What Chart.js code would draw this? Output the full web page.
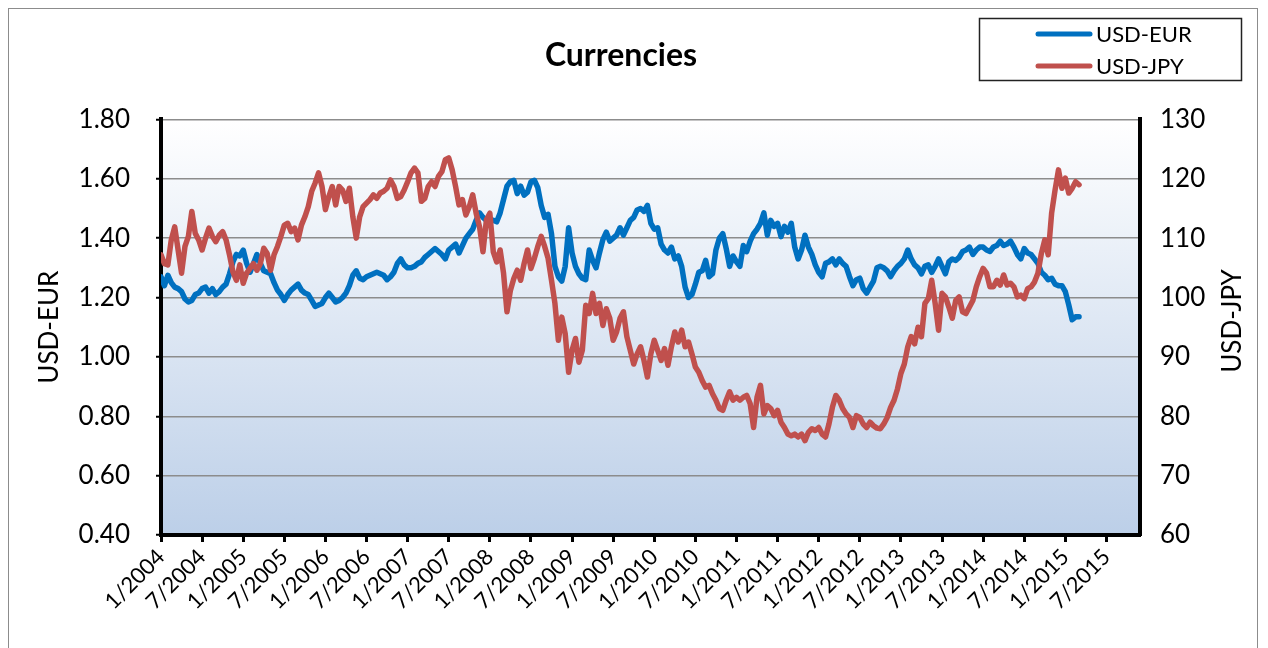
<!DOCTYPE html>
<html>
<head>
<meta charset="utf-8">
<title>Currencies</title>
<script src="https://cdn.jsdelivr.net/npm/chart.js@4.4.1/dist/chart.umd.min.js"></script>
<style>
    html, body { margin: 0; padding: 0; background: #ffffff; }
</style>
</head>
<body>
<canvas id="currencyChart" width="1268" height="648"></canvas>
<script>
// x axis: months counted from 1/2004, one label every 6 months
const tickMonths = [0, 6, 12, 18, 24, 30, 36, 42, 48, 54, 60, 66, 72, 78, 84, 90, 96, 102, 108, 114, 120, 126, 132, 138];
const tickLabels = ["1/2004", "7/2004", "1/2005", "7/2005", "1/2006", "7/2006", "1/2007", "7/2007",
    "1/2008", "7/2008", "1/2009", "7/2009", "1/2010", "7/2010", "1/2011", "7/2011",
    "1/2012", "7/2012", "1/2013", "7/2013", "1/2014", "7/2014", "1/2015", "7/2015"];

// readings every half month, one row = 6 months
const eurUsd = [
    1.27, 1.24, 1.275, 1.25, 1.235, 1.23, 1.22, 1.195, 1.185, 1.19, 1.21, 1.215,
    1.23, 1.235, 1.215, 1.23, 1.21, 1.22, 1.235, 1.245, 1.28, 1.32, 1.345, 1.34,
    1.36, 1.315, 1.285, 1.315, 1.345, 1.315, 1.29, 1.285, 1.28, 1.25, 1.225, 1.21,
    1.19, 1.21, 1.225, 1.235, 1.245, 1.225, 1.215, 1.21, 1.19, 1.17, 1.175, 1.18,
    1.20, 1.215, 1.20, 1.185, 1.19, 1.20, 1.215, 1.24, 1.275, 1.29, 1.265, 1.26,
    1.27, 1.275, 1.28, 1.285, 1.28, 1.275, 1.26, 1.27, 1.285, 1.315, 1.33, 1.31,
    1.30, 1.30, 1.305, 1.315, 1.32, 1.335, 1.345, 1.355, 1.365, 1.355, 1.345, 1.33,
    1.36, 1.37, 1.38, 1.35, 1.375, 1.40, 1.415, 1.43, 1.46, 1.485, 1.47, 1.46,
    1.455, 1.46, 1.455, 1.485, 1.53, 1.575, 1.59, 1.595, 1.55, 1.575, 1.545, 1.555,
    1.59, 1.595, 1.57, 1.51, 1.47, 1.48, 1.415, 1.305, 1.27, 1.255, 1.305, 1.435,
    1.35, 1.305, 1.28, 1.265, 1.26, 1.36, 1.325, 1.30, 1.35, 1.395, 1.42, 1.39,
    1.40, 1.41, 1.435, 1.41, 1.435, 1.46, 1.47, 1.495, 1.50, 1.49, 1.51, 1.45,
    1.43, 1.435, 1.38, 1.36, 1.35, 1.37, 1.33, 1.34, 1.305, 1.235, 1.20, 1.21,
    1.245, 1.285, 1.29, 1.325, 1.27, 1.28, 1.36, 1.40, 1.415, 1.365, 1.305, 1.34,
    1.32, 1.305, 1.375, 1.355, 1.39, 1.415, 1.43, 1.45, 1.485, 1.41, 1.46, 1.44,
    1.45, 1.405, 1.44, 1.42, 1.45, 1.37, 1.33, 1.36, 1.41, 1.37, 1.345, 1.31,
    1.285, 1.27, 1.315, 1.32, 1.33, 1.31, 1.33, 1.315, 1.305, 1.27, 1.24, 1.26,
    1.265, 1.23, 1.215, 1.235, 1.255, 1.30, 1.305, 1.30, 1.29, 1.27, 1.29, 1.305,
    1.315, 1.33, 1.36, 1.33, 1.31, 1.30, 1.28, 1.305, 1.31, 1.285, 1.305, 1.33,
    1.305, 1.28, 1.32, 1.33, 1.325, 1.335, 1.355, 1.36, 1.37, 1.345, 1.36, 1.37,
    1.37, 1.36, 1.355, 1.37, 1.375, 1.39, 1.375, 1.38, 1.39, 1.37, 1.345, 1.33,
    1.365, 1.35, 1.345, 1.33, 1.315, 1.285, 1.275, 1.26, 1.265, 1.245, 1.24, 1.24,
    1.22, 1.175, 1.125, 1.135, 1.135
];

const usdJpy = [
    107.2, 105.7, 105.5, 109.7, 111.9, 108.0, 104.1, 108.6, 110.3, 114.5, 110.8, 109.7,
    108.0, 110.0, 111.7, 110.3, 109.4, 110.5, 111.1, 109.7, 107.2, 104.3, 102.9, 105.5,
    102.4, 104.1, 104.9, 105.7, 104.6, 105.7, 108.3, 107.4, 104.6, 107.2, 108.6, 110.3,
    112.2, 112.5, 111.1, 111.7, 109.7, 112.2, 113.6, 115.3, 117.9, 119.3, 121.0, 118.7,
    114.8, 117.0, 118.7, 115.6, 118.7, 118.1, 116.2, 118.4, 113.6, 110.0, 113.6, 115.3,
    115.9, 116.5, 117.3, 116.7, 117.6, 117.9, 118.4, 119.8, 118.7, 116.7, 117.0, 118.1,
    119.5, 121.0, 121.8, 121.0, 116.2, 116.7, 118.7, 119.5, 118.7, 120.4, 121.2, 123.2,
    123.5, 121.5, 118.7, 115.6, 116.5, 113.9, 115.3, 117.3, 114.2, 111.9, 107.7, 113.1,
    114.2, 107.7, 106.0, 108.0, 104.1, 97.6, 101.2, 103.2, 104.6, 102.9, 105.7, 108.0,
    104.9, 106.6, 108.6, 110.3, 108.6, 106.6, 102.9, 99.0, 92.8, 96.7, 93.9, 87.4,
    91.1, 93.1, 89.1, 91.1, 98.7, 97.3, 100.7, 97.3, 99.0, 95.3, 98.1, 96.5,
    92.8, 94.2, 96.5, 97.6, 93.4, 91.1, 88.8, 90.5, 91.7, 89.4, 86.6, 90.5,
    92.8, 91.1, 89.4, 91.4, 88.6, 91.7, 94.2, 92.5, 94.5, 91.7, 92.5, 90.5,
    88.3, 87.4, 86.0, 84.9, 85.2, 83.8, 82.7, 81.3, 81.0, 82.7, 84.1, 82.7,
    83.2, 82.7, 83.2, 83.5, 82.1, 78.1, 83.2, 85.2, 80.4, 81.8, 81.3, 80.1,
    81.0, 79.0, 78.1, 77.0, 76.7, 77.0, 76.5, 77.0, 75.9, 77.3, 77.9, 77.6,
    78.1, 77.0, 76.5, 78.7, 81.5, 83.5, 82.7, 81.3, 80.4, 79.8, 78.1, 80.1,
    79.8, 78.7, 78.1, 79.0, 78.4, 78.0, 77.9, 78.7, 79.8, 81.5, 82.7, 84.6,
    87.2, 88.8, 91.7, 93.4, 92.2, 95.0, 93.4, 99.0, 99.8, 102.9, 99.0, 94.5,
    100.7, 100.1, 98.4, 96.5, 99.5, 100.1, 97.6, 97.3, 98.4, 99.5, 101.8, 103.5,
    104.9, 104.1, 101.8, 101.8, 102.9, 102.1, 103.8, 102.1, 102.4, 101.8, 100.1, 100.4,
    99.8, 101.5, 101.8, 102.6, 104.1, 107.4, 109.7, 107.2, 114.2, 118.1, 121.5, 118.4,
    120.1, 117.6, 118.4, 119.5, 119.0
];

// half-month steps starting at 1/2004
const months = eurUsd.map((_, i) => i / 2);

const FONT = "Lato, 'Open Sans', sans-serif";

// white canvas, thin chart frame and the white-to-blue plot fill
const plotBackground = {
    id: "plotBackground",
    beforeDraw(chart) {
        const { ctx, chartArea: area } = chart;
        ctx.save();
        ctx.fillStyle = "#ffffff";
        ctx.fillRect(0, 0, chart.width, chart.height);
        ctx.strokeStyle = "#8c8c8c";
        ctx.lineWidth = 1;
        ctx.strokeRect(8.5, 8.5, 1249, 660);
        const grad = ctx.createLinearGradient(0, area.top, 0, area.bottom);
        grad.addColorStop(0, "#ffffff");
        grad.addColorStop(1, "#bccfe8");
        ctx.fillStyle = grad;
        ctx.fillRect(area.left, area.top, area.right - area.left, area.bottom - area.top);
        ctx.restore();
    }
};

// boxed legend at the top right, and the right axis title (reads upwards like the left one)
const boxLegend = {
    id: "boxLegend",
    afterDraw(chart) {
        const ctx = chart.ctx;
        ctx.save();
        ctx.strokeStyle = "#222222";
        ctx.lineWidth = 1.5;
        ctx.strokeRect(979.5, 18.5, 262, 62);
        ctx.font = `22px ${FONT}`;
        ctx.textBaseline = "middle";
        chart.data.datasets.forEach((ds, i) => {
            const y = 34 + i * 32;
            ctx.strokeStyle = ds.borderColor;
            ctx.lineWidth = 5;
            ctx.lineCap = "round";
            ctx.beginPath();
            ctx.moveTo(1038, y);
            ctx.lineTo(1090, y);
            ctx.stroke();
            ctx.fillStyle = "#000000";
            ctx.fillText(ds.label, 1096, y + 1);
        });

        ctx.translate(1233, 321);
        ctx.rotate(-Math.PI / 2);
        ctx.textAlign = "center";
        ctx.font = `26px ${FONT}`;
        ctx.fillText("USD-JPY", 0, 0);
        ctx.restore();
    }
};

const ctx = document.getElementById("currencyChart").getContext("2d");
new Chart(ctx, {
    type: "line",
    data: {
        datasets: [
            {
                label: "USD-EUR",
                data: months.map((m, i) => ({ x: m, y: eurUsd[i] })),
                borderColor: "#0070C0",
                borderWidth: 5.5,
                pointRadius: 0,
                borderJoinStyle: "round",
                borderCapStyle: "round",
                yAxisID: "y",
                order: 1
            },
            {
                label: "USD-JPY",
                data: months.map((m, i) => ({ x: m, y: usdJpy[i] })),
                borderColor: "#C0504D",
                borderWidth: 5.5,
                pointRadius: 0,
                borderJoinStyle: "round",
                borderCapStyle: "round",
                yAxisID: "y1",
                order: 0
            }
        ]
    },
    options: {
        responsive: false,
        animation: false,
        layout: { padding: { left: 0, right: 26, top: 0, bottom: 0 } },
        plugins: {
            legend: { display: false },
            tooltip: { enabled: false },
            title: {
                display: true,
                text: "Currencies",
                color: "#000000",
                font: { family: FONT, size: 32, weight: "bold" },
                padding: { top: 36, bottom: 45 }
            }
        },
        scales: {
            x: {
                type: "linear",
                min: 0,
                max: 142.9,
                afterBuildTicks: (scale) => {
                    scale.ticks = tickMonths.map(v => ({ value: v }));
                },
                afterFit: (scale) => { scale.height = 113; },
                grid: {
                    drawOnChartArea: false,
                    drawTicks: true,
                    tickLength: 7,
                    tickWidth: 3,
                    tickColor: "#000000"
                },
                border: { display: true, color: "#000000", width: 4 },
                ticks: {
                    autoSkip: false,
                    minRotation: 45,
                    maxRotation: 45,
                    padding: 2,
                    color: "#000000",
                    font: { family: FONT, size: 22 },
                    callback: (value, index) => tickLabels[index]
                }
            },
            y: {
                position: "left",
                min: 0.4,
                max: 1.8,
                afterFit: (scale) => { scale.width = 161; },
                grid: {
                    color: "#8c8c8c",
                    lineWidth: 1.5,
                    tickColor: "#000000",
                    tickLength: 5,
                    tickWidth: 2
                },
                border: { display: true, color: "#000000", width: 4 },
                ticks: {
                    stepSize: 0.2,
                    padding: 26,
                    color: "#000000",
                    font: { family: FONT, size: 26 },
                    callback: (value) => value.toFixed(2)
                },
                title: {
                    display: true,
                    text: "USD-EUR",
                    color: "#000000",
                    font: { family: FONT, size: 26 },
                    padding: { top: 34, bottom: 0 }
                }
            },
            y1: {
                position: "right",
                min: 60,
                max: 130,
                afterFit: (scale) => { scale.width = 102; },
                grid: { drawOnChartArea: false, drawTicks: false },
                border: { display: true, color: "#000000", width: 4 },
                ticks: {
                    stepSize: 10,
                    padding: 20,
                    color: "#000000",
                    font: { family: FONT, size: 26 }
                }
            }
        }
    },
    plugins: [plotBackground, boxLegend]
});
</script>
</body>
</html>
